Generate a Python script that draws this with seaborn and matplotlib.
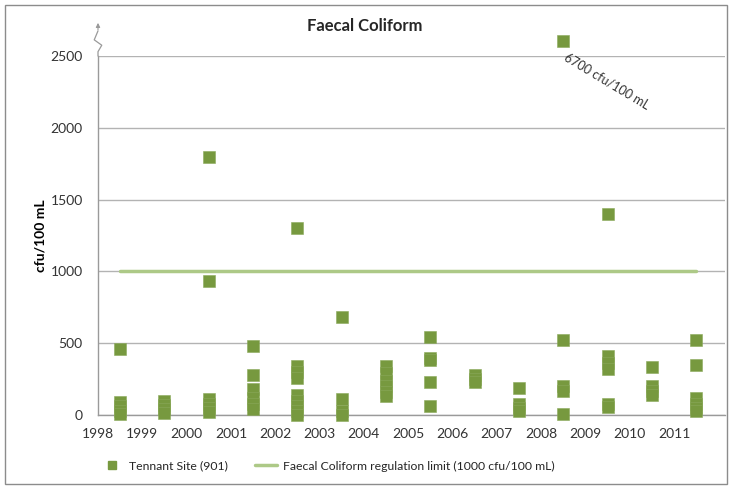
import numpy as np
import pandas as pd
import matplotlib.pyplot as plt
import seaborn as sns
from matplotlib.lines import Line2D
from matplotlib.patches import Rectangle

# sampling years (samples plotted mid-year)
years = [1998, 1999, 2000, 2001, 2002, 2003, 2004, 2005, 2006, 2007, 2008, 2009, 2010, 2011]

# faecal coliform counts, cfu/100 mL, per year
counts = [
    [460, 90, 60, 30, 10],
    [100, 70, 40, 15],
    [1800, 930, 110, 80, 50, 20],
    [480, 280, 180, 120, 80, 40],
    [1300, 340, 300, 260, 140, 100, 60, 30, 0],
    [680, 110, 30, 0],
    [340, 290, 240, 200, 160, 130],
    [540, 400, 380, 230, 60],
    [280, 250, 230],
    [190, 80, 50, 30],
    [6700, 520, 200, 170, 10],
    [1400, 410, 360, 320, 80, 55],
    [335, 200, 170, 140],
    [520, 350, 120, 80, 50, 30],
]

limit = 1000
y_max = 2500
off_scale = 2605  # where values above the axis are drawn

rows = []
for yr, vals in zip(years, counts):
    for v in vals:
        rows.append({"year": yr + 0.5, "value": v})
df = pd.DataFrame(rows)
df["shown"] = df["value"].clip(upper=off_scale)

sns.set_style("white")
plt.rcParams["font.family"] = ["Lato", "DejaVu Sans"]

marker_col = "#77993f"
line_col = "#adc987"
grid_col = "#b3b3b3"
text_col = "#333333"

fig = plt.figure(figsize=(7.35, 4.9), dpi=100)
ax = fig.add_axes([98 / 735, 1 - 415 / 490, (725 - 98) / 735, (415 - 56) / 490])

# regulation limit
ax.plot([years[0] + 0.5, years[-1] + 0.5], [limit, limit], color=line_col, lw=2.5, zorder=2)

sns.scatterplot(data=df, x="year", y="shown", marker="s", s=85, color=marker_col,
                edgecolor="#8aa95a", linewidth=0.4, ax=ax, zorder=3, clip_on=False, legend=False)

ax.set_xlim(1998, 2012.15)
ax.set_ylim(0, y_max)
ax.set_yticks(np.arange(0, 2501, 500))
ax.set_xticks(years)
ax.set_xticklabels([str(y) for y in years])
ax.grid(axis="y", color=grid_col, lw=1)
ax.set_axisbelow(True)
for side in ["top", "right"]:
    ax.spines[side].set_visible(False)
for side in ["left", "bottom"]:
    ax.spines[side].set_color("#9a9a9a")
    ax.spines[side].set_linewidth(1)
ax.tick_params(axis="both", length=0, labelsize=10, colors=text_col)
ax.tick_params(axis="y", pad=11)
ax.tick_params(axis="x", pad=9)
ax.set_xlabel("")
ax.set_ylabel("cfu/100 mL", fontsize=10, fontweight="bold", color="black", labelpad=3)

# label for the off-scale sample
big = df[df["value"] > y_max].iloc[0]
ax.annotate(f"{big['value']:.0f} cfu/100 mL", xy=(big["year"], big["shown"]),
            xytext=(4, -7), textcoords="offset points", rotation=-31,
            rotation_mode="anchor", ha="left", va="top", fontsize=9, color=text_col,
            annotation_clip=False)

# axis break mark at top of the y axis
ax.plot([0, 0, 0.006, -0.006, 0], [1.0, 1.012, 1.03, 1.045, 1.07],
        transform=ax.transAxes, color="#9a9a9a", lw=0.9, clip_on=False)
ax.annotate("", xy=(0, 1.1), xytext=(0, 1.065), xycoords="axes fraction",
            arrowprops=dict(arrowstyle="-|>", color="#9a9a9a", lw=0.8, mutation_scale=6))

fig.suptitle("Faecal Coliform", x=365 / 735, y=1 - 18 / 490, fontsize=12,
             fontweight="bold", va="top")

handles = [
    Line2D([], [], marker="s", ls="none", color=marker_col, markersize=6, label="Tennant Site (901)"),
    Line2D([], [], color=line_col, lw=2.5, label="Faecal Coliform regulation limit (1000 cfu/100 mL)"),
]
fig.legend(handles=handles, loc="center left", bbox_to_anchor=(90 / 735, 1 - 466 / 490),
           ncol=2, frameon=False, fontsize=8.8, handlelength=1.8, columnspacing=2.2,
           handletextpad=0.5)

# chart frame
fig.patches.append(Rectangle((5 / 735, 6 / 490), 722 / 735, 479 / 490, transform=fig.transFigure,
                             fill=False, edgecolor="#8c8c8c", lw=1))

fig.savefig("out.png", dpi=100)
